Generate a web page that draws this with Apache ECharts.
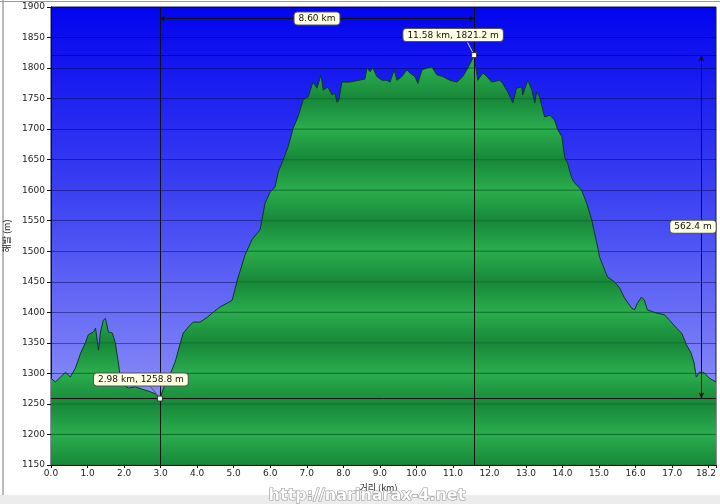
<!DOCTYPE html>
<html>
<head>
<meta charset="utf-8">
<script src="https://cdn.jsdelivr.net/npm/echarts@6/dist/echarts.min.js"></script>
<style>
html,body{margin:0;padding:0;background:#fff;}
#c{width:720px;height:504px;}
</style>
</head>
<body>
<div id="c"></div>
<script>
// ---- data ----
const distKm = [0.00,0.12,0.26,0.40,0.53,0.67,0.81,0.94,1.02,1.16,1.22,1.30,1.35,1.43,1.49,1.57,1.68,1.76,1.84,1.90,2.01,2.12,2.31,2.50,2.72,2.88,2.98,3.13,3.27,3.40,3.54,3.62,3.76,3.89,4.08,4.28,4.44,4.63,4.82,4.96,5.10,5.31,5.51,5.72,5.86,6.00,6.13,6.22,6.35,6.49,6.63,6.76,6.90,7.04,7.17,7.28,7.39,7.45,7.58,7.69,7.77,7.83,7.88,7.96,8.18,8.59,8.65,8.73,8.81,8.92,9.06,9.19,9.28,9.39,9.47,9.60,9.74,9.82,9.96,10.04,10.15,10.29,10.42,10.56,10.72,10.92,11.11,11.27,11.41,11.58,11.68,11.82,11.93,12.06,12.28,12.36,12.50,12.64,12.74,12.88,12.91,13.05,13.16,13.24,13.29,13.37,13.51,13.65,13.78,13.87,13.98,14.06,14.14,14.25,14.33,14.52,14.66,14.80,14.96,15.01,15.23,15.42,15.56,15.70,15.89,15.97,16.05,16.16,16.24,16.32,16.56,16.79,16.93,17.12,17.26,17.39,17.52,17.60,17.66,17.74,17.88,18.02,18.20];
const elevM = [1292,1286,1294,1302,1294,1309,1333,1350,1363,1368,1374,1338,1366,1387,1390,1368,1366,1350,1319,1292,1280,1276,1278,1274,1270,1266,1258.8,1284,1300,1319,1350,1366,1376,1384,1384,1392,1400,1409,1415,1420,1453,1494,1520,1535,1579,1597,1605,1630,1649,1671,1702,1720,1748,1753,1777,1767,1789,1764,1769,1756,1759,1744,1748,1777,1777,1782,1800,1794,1800,1786,1780,1780,1777,1797,1780,1786,1797,1792,1786,1775,1797,1800,1802,1789,1786,1780,1777,1786,1800,1821.2,1780,1792,1786,1777,1780,1775,1761,1743,1767,1769,1756,1780,1764,1743,1761,1753,1720,1723,1715,1699,1688,1654,1644,1620,1612,1600,1579,1551,1507,1491,1458,1450,1440,1423,1407,1404,1415,1425,1420,1404,1399,1396,1387,1374,1366,1347,1333,1317,1294,1302,1301,1292,1286];
const lowPoint = [2.98, 1258.8];
const highPoint = [11.58, 1821.2];
const lowLabel = '2.98 km, 1258.8 m';
const highLabel = '11.58 km, 1821.2 m';
const distLabel = '8.60 km';
const riseLabel = '562.4 m';
const yMin = 1150, yMax = 1900, yStep = 50;
const xMin = 0, xMax = 18.2, xStep = 1;
const xName = '거리 (km)';
const yName = '해발 (m)';
const watermark = 'http://narinarax-4.net';

// ---- styling ----
const gridTop = 7, gridBottom = 39, gridLeft = 51, gridRight = 4;
const H = 504;
const plotTop = gridTop, plotBot = H - gridBottom;

function bandGradient() {
  const stops = [];
  const n = (yMax - yMin) / yStep;
  const light = '#2aac4d', dark = '#18893a', line = '#117330';
  for (let k = 0; k <= n; k++) {
    const v = yMax - k * yStep;
    const o = k / n;
    const c = (v % 100 === 0) ? light : dark;
    const e = 0.0025;
    if (o - e > 0) stops.push({offset: o - e, color: c});
    stops.push({offset: o, color: line});
    if (o + e < 1) stops.push({offset: o + e, color: c});
  }
  return {type: 'linear', x: 0, y: plotTop, x2: 0, y2: plotBot, global: true, colorStops: stops};
}

const chart = echarts.init(document.getElementById('c'), null, {renderer: 'canvas'});
const seriesData = distKm.map((d, i) => [d, elevM[i]]);
const midKm = (lowPoint[0] + highPoint[0]) / 2;
const midM = (lowPoint[1] + highPoint[1]) / 2;
const boxStyle = {
  show: true, backgroundColor: '#ffffe4', borderColor: '#555', borderWidth: 1,
  borderRadius: 3, padding: [2, 4, 1, 4], fontSize: 9, color: '#111',
  fontFamily: 'DejaVu Sans'
};

chart.setOption({
  animation: false,
  backgroundColor: '#ffffff',
  textStyle: {fontFamily: 'DejaVu Sans'},
  grid: {
    left: gridLeft, right: gridRight, top: gridTop, bottom: gridBottom,
    containLabel: false, outerBoundsMode: 'none',
    show: true,
    borderColor: '#1a1a3a', borderWidth: 1,
    backgroundColor: {type: 'linear', x: 0, y: 0, x2: 0, y2: 1,
      colorStops: [{offset: 0, color: '#0204ee'}, {offset: 0.45, color: '#4248f2'}, {offset: 1, color: '#a4a6fa'}]}
  },
  xAxis: {
    type: 'value', min: xMin, max: xMax, interval: xStep,
    name: xName, nameLocation: 'middle', nameGap: 17,
    nameTextStyle: {fontSize: 9, color: '#222', fontFamily: 'Noto Sans CJK KR', padding: [0, 0, 0, -10]},
    axisLine: {show: true, lineStyle: {color: '#111', width: 1}},
    axisTick: {show: true, length: 3, lineStyle: {color: '#111'}},
    splitLine: {show: false},
    axisLabel: {fontSize: 9, color: '#222', margin: 4, alignMaxLabel: 'right',
      formatter: v => (Math.abs(v - 18) < 1e-9 ? '' : v.toFixed(1))}
  },
  yAxis: {
    type: 'value', min: yMin, max: yMax, interval: yStep,
    name: yName, nameLocation: 'middle', nameGap: 38, nameRotate: 90,
    nameTextStyle: {fontSize: 9, color: '#222', fontFamily: 'Noto Sans CJK KR'},
    axisLine: {show: true, lineStyle: {color: '#111', width: 1}},
    axisTick: {show: true, length: 4, lineStyle: {color: '#111'}},
    splitLine: {show: true, lineStyle: {color: 'rgba(0,0,70,0.45)', width: 1}},
    axisLabel: {fontSize: 9, color: '#222', margin: 6, formatter: v => String(v)}
  },
  series: [{
    type: 'line',
    data: seriesData,
    showSymbol: false,
    symbol: 'none',
    lineStyle: {color: '#0b3a1f', width: 1},
    areaStyle: {color: bandGradient(), opacity: 1},
    markLine: {
      silent: true,
      symbol: 'none',
      label: {show: false},
      lineStyle: {color: '#111', width: 1, type: 'solid'},
      data: [
        {xAxis: lowPoint[0]},
        {xAxis: highPoint[0]},
        {yAxis: lowPoint[1]},
        {yAxis: highPoint[1]},
        [{coord: [lowPoint[0], 1881], symbol: 'arrow', symbolSize: [4, 5]},
         {coord: [highPoint[0], 1881], symbol: 'arrow', symbolSize: [4, 5]}],
        [{coord: [17.80, highPoint[1]], symbol: 'arrow', symbolSize: [4, 6]},
         {coord: [17.80, lowPoint[1]], symbol: 'arrow', symbolSize: [4, 6]}],
        [{coord: [2.72, 1279], symbol: 'none', lineStyle: {color: '#555'}},
         {coord: lowPoint, symbol: 'none'}],
        [{coord: [11.40, 1842], symbol: 'none', lineStyle: {color: '#ddd'}},
         {coord: highPoint, symbol: 'none'}]
      ]
    },
    markPoint: {
      silent: true,
      data: [
        {coord: lowPoint, symbol: 'rect', symbolSize: 5,
         itemStyle: {color: '#fff', borderColor: '#333', borderWidth: 1},
         label: Object.assign({}, boxStyle, {formatter: lowLabel, position: 'top', offset: [-19, -5]})},
        {coord: highPoint, symbol: 'rect', symbolSize: 5,
         itemStyle: {color: '#fff', borderColor: '#333', borderWidth: 1},
         label: Object.assign({}, boxStyle, {formatter: highLabel, position: 'top', offset: [-21, -6]})},
        {coord: [midKm, 1881], symbol: 'rect', symbolSize: 0,
         label: Object.assign({}, boxStyle, {formatter: distLabel, position: 'inside'})},
        {coord: [17.57, midM], symbol: 'rect', symbolSize: 0,
         label: Object.assign({}, boxStyle, {formatter: riseLabel, position: 'inside'})}
      ]
    }
  }],
  graphic: [
    {type: 'rect', shape: {x: 0, y: 495, width: 720, height: 9}, style: {fill: '#ececec'}, z: -1},
    {type: 'line', shape: {x1: 3, y1: 0, x2: 3, y2: 495}, style: {stroke: '#777', lineWidth: 1}},
    {type: 'line', shape: {x1: 0, y1: 1.5, x2: 720, y2: 1.5}, style: {stroke: '#999', lineWidth: 1}},
    {type: 'text', left: 268, top: 487, z: 100,
     style: {text: watermark, fontSize: 16, fontWeight: 'bold', fontFamily: 'DejaVu Sans',
       fill: 'rgba(255,255,255,0.9)', stroke: '#9a9a9a', lineWidth: 1.2}}
  ]
});
</script>
</body>
</html>
